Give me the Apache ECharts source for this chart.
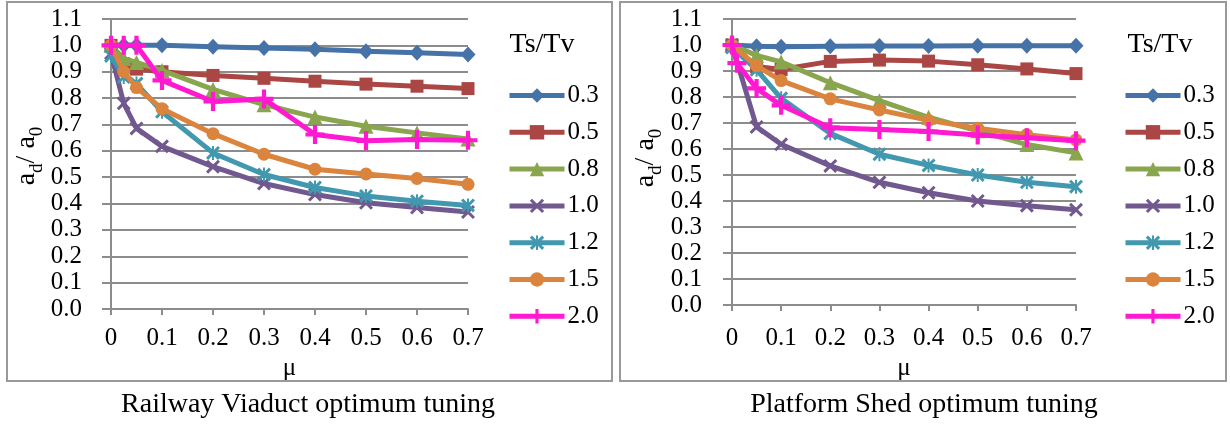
<!DOCTYPE html>
<html>
<head>
<meta charset="utf-8">
<script src="https://cdn.jsdelivr.net/npm/echarts@6/dist/echarts.min.js"></script>
<style>
html,body{margin:0;padding:0;background:#fff;}
#chart{width:1230px;height:425px;}
</style>
</head>
<body>
<div id="chart"></div>
<script>
// ---- data ----
const seriesNames = ['0.3', '0.5', '0.8', '1.0', '1.2', '1.5', '2.0'];
const xTickLabels = ['0', '0.1', '0.2', '0.3', '0.4', '0.5', '0.6', '0.7'];
const yTickLabels = ['0.0', '0.1', '0.2', '0.3', '0.4', '0.5', '0.6', '0.7', '0.8', '0.9', '1.0', '1.1'];

// Railway Viaduct optimum tuning
const muLeft = [0, 0.025, 0.05, 0.1, 0.2, 0.3, 0.4, 0.5, 0.6, 0.7];
const v03L = [1.0, 1.0, 1.0, 1.0, 0.995, 0.99, 0.985, 0.978, 0.972, 0.965];
const v05L = [1.0, 0.93, 0.91, 0.9, 0.886, 0.875, 0.864, 0.853, 0.845, 0.836];
const v08L = [1.0, 0.95, 0.935, 0.905, 0.833, 0.775, 0.728, 0.693, 0.668, 0.645];
const v10L = [0.97, 0.78, 0.685, 0.617, 0.54, 0.476, 0.434, 0.403, 0.385, 0.368];
const v12L = [0.96, 0.88, 0.855, 0.748, 0.592, 0.51, 0.461, 0.429, 0.409, 0.393];
const v15L = [1.0, 0.9, 0.84, 0.76, 0.665, 0.587, 0.53, 0.512, 0.495, 0.473];
const v20L = [1.0, 1.0, 1.0, 0.867, 0.787, 0.797, 0.662, 0.638, 0.643, 0.64];

// Platform Shed optimum tuning
const muRight = [0, 0.05, 0.1, 0.2, 0.3, 0.4, 0.5, 0.6, 0.7];
const muRightPink = [0, 0.01, 0.05, 0.1, 0.2, 0.3, 0.4, 0.5, 0.6, 0.7];
const v03R = [1.0, 0.995, 0.993, 0.995, 0.996, 0.996, 0.997, 0.997, 0.997];
const v05R = [1.0, 0.917, 0.906, 0.937, 0.942, 0.938, 0.924, 0.908, 0.89];
const v08R = [1.0, 0.96, 0.935, 0.855, 0.786, 0.722, 0.67, 0.617, 0.585];
const v10R = [1.0, 0.685, 0.618, 0.535, 0.472, 0.432, 0.4, 0.382, 0.366];
const v12R = [0.99, 0.905, 0.795, 0.66, 0.58, 0.537, 0.5, 0.472, 0.455];
const v15R = [1.0, 0.92, 0.863, 0.793, 0.75, 0.71, 0.68, 0.655, 0.635];
const v20R = [1.0, 0.93, 0.833, 0.768, 0.682, 0.675, 0.667, 0.654, 0.643, 0.632];

const titleLeft = 'Railway Viaduct optimum tuning';
const titleRight = 'Platform Shed optimum tuning';
const legendTitle = 'Ts/Tv';
const yName = 'a{s|d}/ a{s|0}';

// ---- styling ----
const colors = ['#4572a7', '#aa4643', '#89a54e', '#71588f', '#4198af', '#db843d', '#ff19d0'];
const X_PATH = 'path://M0,1.5 L1.5,0 L10,8.5 L8.5,10 Z M8.5,0 L10,1.5 L1.5,10 L0,8.5 Z';
const AST_PATH = 'path://M0,1.5 L1.5,0 L10,8.5 L8.5,10 Z M8.5,0 L10,1.5 L1.5,10 L0,8.5 Z M4.3,0 L5.7,0 L5.7,10 L4.3,10 Z';
const PLUS_PATH = 'path://M3.9,0 L6.1,0 L6.1,3.9 L10,3.9 L10,6.1 L6.1,6.1 L6.1,10 L3.9,10 L3.9,6.1 L0,6.1 L0,3.9 L3.9,3.9 Z';
const symbols = ['diamond', 'rect', 'triangle', X_PATH, AST_PATH, 'circle', PLUS_PATH];
const symbolSizes = [[15, 16], 13, 15, 14, 14, 13, 19];
const FONT = "'Liberation Serif', 'Times New Roman', serif";
const GRAY = '#8c8c8c';

function pairs(xs, ys) { return xs.map((x, i) => [x, ys[i]]); }

const leftData = [v03L, v05L, v08L, v10L, v12L, v15L, v20L].map(v => pairs(muLeft, v));
const rightData = [
  pairs(muRight, v03R), pairs(muRight, v05R), pairs(muRight, v08R), pairs(muRight, v10R),
  pairs(muRight, v12R), pairs(muRight, v15R), pairs(muRightPink, v20R)
];

function mkSeries(dataSets, idx) {
  return dataSets.map((d, i) => ({
    name: seriesNames[i],
    type: 'line',
    xAxisIndex: idx, yAxisIndex: idx,
    data: d,
    symbol: symbols[i],
    symbolSize: symbolSizes[i],
    showAllSymbol: true,
    lineStyle: { color: colors[i], width: 5 },
    itemStyle: { color: colors[i], borderWidth: 0 },
    emphasis: { disabled: true },
    animation: false,
    z: 2 + i
  }));
}

function mkX(gridIndex, margin, nameGap) {
  return {
    type: 'value', gridIndex: gridIndex, min: 0, max: 0.7, interval: 0.1,
    name: 'μ', nameLocation: 'middle', nameGap: nameGap,
    nameTextStyle: { fontFamily: FONT, fontSize: 25, color: '#000' },
    axisLine: { show: true, onZero: false, lineStyle: { color: GRAY, width: 2 } },
    axisTick: { show: true, length: 6, lineStyle: { color: GRAY, width: 2 } },
    splitLine: { show: false },
    axisLabel: {
      margin: margin, fontFamily: FONT, fontSize: 25, color: '#000',
      formatter: v => xTickLabels[Math.round(v * 10)]
    }
  };
}

function mkY(gridIndex, margin) {
  return {
    type: 'value', gridIndex: gridIndex, min: 0, max: 1.1, interval: 0.1,
    axisLine: { show: true, lineStyle: { color: GRAY, width: 2 } },
    axisTick: { show: true, length: 9, lineStyle: { color: GRAY, width: 2 } },
    splitLine: { show: true, lineStyle: { color: GRAY, width: 2 } },
    axisLabel: {
      margin: margin, fontFamily: FONT, fontSize: 25, color: '#000',
      formatter: v => yTickLabels[Math.round(v * 10)]
    }
  };
}

function mkLegend(left) {
  return {
    left: left, top: 83, orient: 'vertical', padding: 0,
    itemWidth: 55, itemHeight: 18, itemGap: 11.8,
    data: seriesNames,
    selectedMode: false,
    lineStyle: { width: 5 },
    textStyle: { fontFamily: FONT, fontSize: 25, color: '#000', padding: [0, 0, 0, -2], lineHeight: 25 }
  };
}

function yNameText(x, y) {
  return {
    type: 'text', x: x, y: y, rotation: Math.PI / 2,
    style: {
      text: yName, fill: '#000', align: 'center', verticalAlign: 'middle',
      font: "28px 'Liberation Serif', serif", lineHeight: 30,
      rich: {
        s: { font: "19px 'Liberation Serif', serif", fill: '#000', lineHeight: 16, verticalAlign: 'bottom', padding: [0, 0, -5, 0] }
      }
    }
  };
}

const chart = echarts.init(document.getElementById('chart'), null, { renderer: 'canvas' });
chart.setOption({
  animation: false,
  backgroundColor: '#fff',
  grid: [
    { left: 111, top: 19, width: 357, height: 290 },
    { left: 732, top: 19, width: 344, height: 286 }
  ],
  xAxis: [mkX(0, 17, 36), mkX(1, 21, 40)],
  yAxis: [mkY(0, 29), mkY(1, 30)],
  legend: [mkLegend(507), mkLegend(1123)],
  series: mkSeries(leftData, 0).concat(mkSeries(rightData, 1)),
  graphic: [
    { type: 'rect', shape: { x: 7, y: 2, width: 605, height: 379 }, style: { fill: 'none', stroke: '#999', lineWidth: 2 }, z: 0 },
    { type: 'rect', shape: { x: 620, y: 2, width: 606, height: 379 }, style: { fill: 'none', stroke: '#999', lineWidth: 2 }, z: 0 },
    yNameText(27, 156),
    yNameText(646, 158),
    { type: 'text', x: 542, y: 45, style: { text: legendTitle, font: "28px 'Liberation Serif', serif", fill: '#000', align: 'center', verticalAlign: 'middle' } },
    { type: 'text', x: 1160, y: 45, style: { text: legendTitle, font: "28px 'Liberation Serif', serif", fill: '#000', align: 'center', verticalAlign: 'middle' } },
    { type: 'text', x: 308, y: 405, style: { text: titleLeft, font: "28px 'Liberation Serif', serif", fill: '#000', align: 'center', verticalAlign: 'middle' } },
    { type: 'text', x: 924, y: 405, style: { text: titleRight, font: "28px 'Liberation Serif', serif", fill: '#000', align: 'center', verticalAlign: 'middle' } }
  ]
});
</script>
</body>
</html>
